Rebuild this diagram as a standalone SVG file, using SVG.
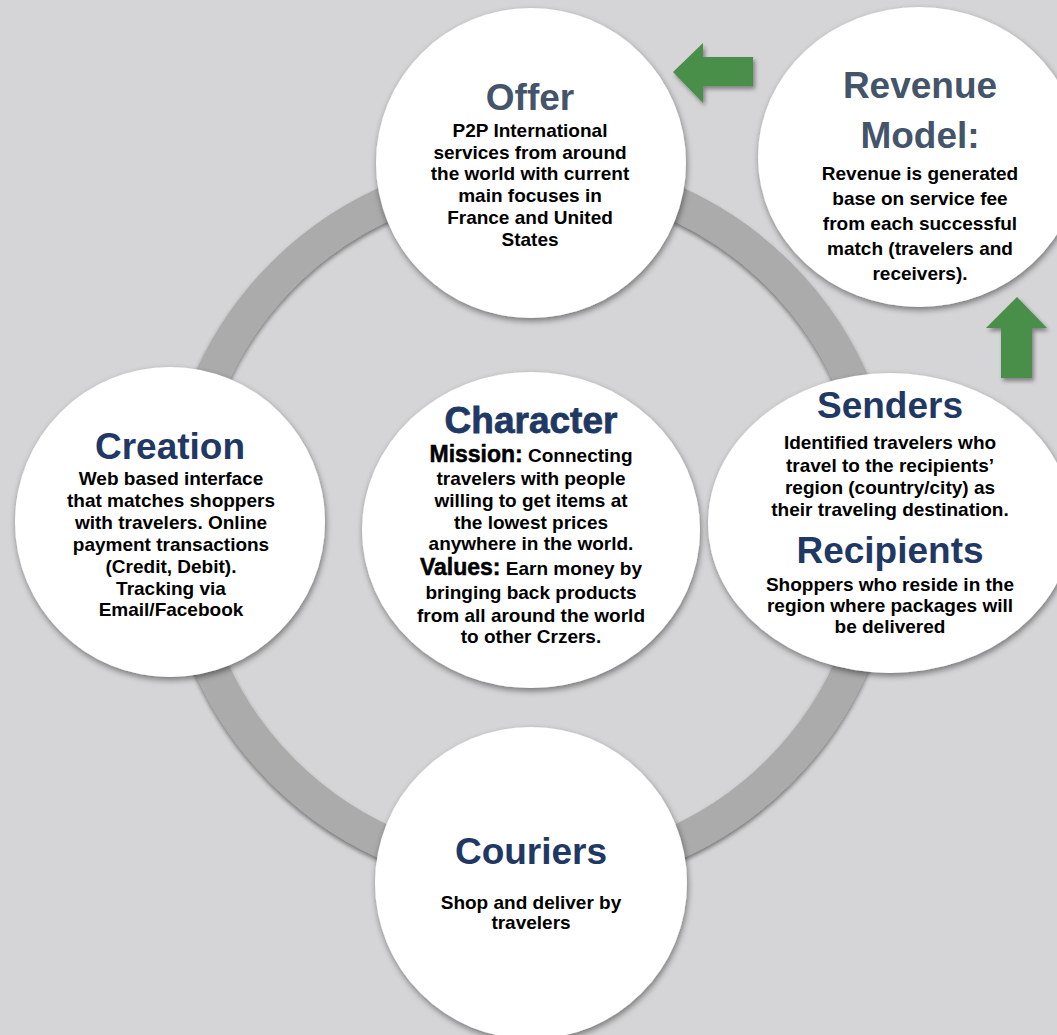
<svg xmlns="http://www.w3.org/2000/svg" width="1057" height="1035" viewBox="0 0 1057 1035">
<defs>
<filter id="sh" x="-20%" y="-20%" width="140%" height="140%">
<feDropShadow dx="1" dy="3" stdDeviation="3" flood-color="#000" flood-opacity="0.45"/>
</filter>
<filter id="rsh" x="-10%" y="-10%" width="120%" height="120%">
<feDropShadow dx="0" dy="3" stdDeviation="2" flood-color="#000" flood-opacity="0.45"/>
</filter>
<filter id="ash" x="-30%" y="-30%" width="160%" height="160%">
<feDropShadow dx="2" dy="3" stdDeviation="2" flood-color="#000" flood-opacity="0.4"/>
</filter>
</defs>
<style>
.node{fill:#ffffff;filter:url(#sh)}
.t1{font-family:"Liberation Sans",Arial,sans-serif;font-weight:bold;font-size:37px;fill:#44546a;text-anchor:middle}
.t2{font-family:"Liberation Sans",Arial,sans-serif;font-weight:bold;font-size:37px;fill:#1f3864;text-anchor:middle}
.b{font-family:"Liberation Sans",Arial,sans-serif;font-weight:bold;font-size:19px;fill:#000;text-anchor:middle}
.lab{font-size:23px;stroke:#000;stroke-width:0.5}
.arrow{fill:#4a8e4a;filter:url(#ash)}
</style>
<rect x="0" y="0" width="1057" height="1035" fill="#d5d5d7"/>
<g id="connectors">
<circle cx="531" cy="523" r="351" fill="none" stroke="#ababab" stroke-width="34" filter="url(#rsh)"/>
<polygon class="arrow" points="673,72 703,43 703,57 753,57 753,86 703,86 703,103"/>
<polygon class="arrow" points="1017,297 1047,328 1032,328 1032,378 1001,378 1001,328 986,328"/>
</g>
<g id="offer">
<circle class="node" cx="531" cy="163" r="155"/>
<text class="t1" x="530" y="110">Offer</text>
<text class="b" x="530" y="137">P2P International</text>
<text class="b" x="530" y="158.7">services from around</text>
<text class="b" x="530" y="180.4">the world with current</text>
<text class="b" x="530" y="202.1">main focuses in</text>
<text class="b" x="530" y="223.8">France and United</text>
<text class="b" x="530" y="245.5">States</text>
</g>
<g id="revenue">
<ellipse class="node" cx="919" cy="157" rx="161" ry="150"/>
<text class="t1" x="920" y="98">Revenue</text>
<text class="t1" x="920" y="148">Model:</text>
<text class="b" x="920" y="180">Revenue is generated</text>
<text class="b" x="920" y="205">base on service fee</text>
<text class="b" x="920" y="230">from each successful</text>
<text class="b" x="920" y="255">match (travelers and</text>
<text class="b" x="920" y="280">receivers).</text>
</g>
<g id="character">
<ellipse class="node" cx="531" cy="530" rx="169" ry="158"/>
<text class="t2" x="531" y="433" stroke="#1f3864" stroke-width="0.8">Character</text>
<text class="b" x="531" y="462"><tspan class="lab">Mission:</tspan> Connecting</text>
<text class="b" x="531" y="484.5">travelers with people</text>
<text class="b" x="531" y="506.5">willing to get items at</text>
<text class="b" x="531" y="528.5">the lowest prices</text>
<text class="b" x="531" y="550">anywhere in the world.</text>
<text class="b" x="531" y="575"><tspan class="lab">Values:</tspan> Earn money by</text>
<text class="b" x="531" y="599">bringing back products</text>
<text class="b" x="531" y="621.5">from all around the world</text>
<text class="b" x="531" y="643">to other Crzers.</text>
</g>
<g id="creation">
<circle class="node" cx="170" cy="522" r="155"/>
<text class="t2" x="170" y="459">Creation</text>
<text class="b" x="171" y="485">Web based interface</text>
<text class="b" x="171" y="507">that matches shoppers</text>
<text class="b" x="171" y="529">with travelers. Online</text>
<text class="b" x="171" y="551">payment transactions</text>
<text class="b" x="171" y="573">(Credit, Debit).</text>
<text class="b" x="171" y="595">Tracking via</text>
<text class="b" x="171" y="616">Email/Facebook</text>
</g>
<g id="senders">
<ellipse class="node" cx="890" cy="523" rx="182" ry="150"/>
<text class="t2" x="890" y="418">Senders</text>
<text class="b" x="890" y="449">Identified travelers who</text>
<text class="b" x="890" y="471.5">travel to the recipients’</text>
<text class="b" x="890" y="493.5">region (country/city) as</text>
<text class="b" x="890" y="516">their traveling destination.</text>
<text class="t2" x="890" y="563">Recipients</text>
<text class="b" x="890" y="591">Shoppers who reside in the</text>
<text class="b" x="890" y="612">region where packages will</text>
<text class="b" x="890" y="633">be delivered</text>
</g>
<g id="couriers">
<circle class="node" cx="531" cy="883" r="156"/>
<text class="t2" x="531" y="864">Couriers</text>
<text class="b" x="531" y="909">Shop and deliver by</text>
<text class="b" x="531" y="929">travelers</text>
</g>
</svg>
